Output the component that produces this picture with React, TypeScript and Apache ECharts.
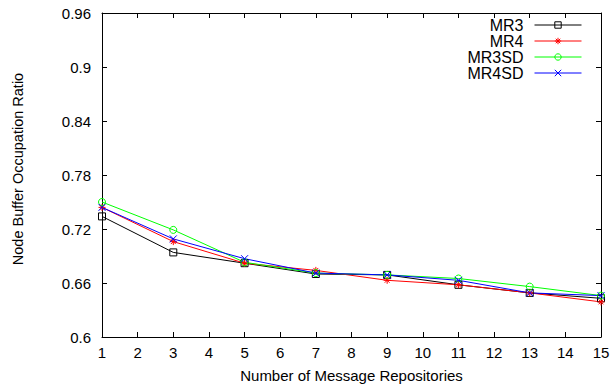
import React, { useEffect, useRef } from "react";
import * as echarts from "echarts";

const repositories = [1, 3, 5, 7, 9, 11, 13, 15];
const mr3 = [0.734, 0.694, 0.682, 0.67, 0.669, 0.658, 0.649, 0.643];
const mr4 = [0.744, 0.706, 0.682, 0.674, 0.663, 0.658, 0.649, 0.639];
const mr3sd = [0.75, 0.719, 0.683, 0.671, 0.669, 0.665, 0.656, 0.646];
const mr4sd = [0.744, 0.709, 0.687, 0.671, 0.669, 0.663, 0.649, 0.646];
const yTicks = [0.6, 0.66, 0.72, 0.78, 0.84, 0.9, 0.96];
const seriesNames = ["MR3", "MR4", "MR3SD", "MR4SD"];
const seriesColors = ["#000000", "#ff0000", "#00ff00", "#0000ff"];

const FONT = "'Liberation Sans', Arial, sans-serif";
const ASTERISK = "path://M5,0L5,10M0,5L10,5M1.5,1.5L8.5,8.5M8.5,1.5L1.5,8.5";
const CROSS = "path://M0,0L10,10M10,0L0,10";
const symbols = ["rect", ASTERISK, "circle", CROSS];

function pairs(ys: number[]) {
  return repositories.map((x, i) => [x, ys[i]]);
}

export default function App() {
  const ref = useRef<HTMLDivElement>(null);
  useEffect(() => {
    if (!ref.current) return;
    const chart = echarts.init(ref.current, null, { renderer: "svg" });
    const values = [mr3, mr4, mr3sd, mr4sd];
    const series = seriesNames.map((name, i) => ({
      name,
      type: "line",
      data: pairs(values[i]),
      symbol: symbols[i],
      symbolSize: 7,
      showAllSymbol: true,
      lineStyle: { color: seriesColors[i], width: 1 },
      itemStyle: { color: "none", borderColor: seriesColors[i], borderWidth: 1 },
      emphasis: { disabled: true },
    }));
    const tickLabel = { fontFamily: FONT, fontSize: 15, color: "#000" };
    chart.setOption({
      animation: false,
      backgroundColor: "#fff",
      grid: { left: 102, right: 14, top: 13, bottom: 53 },
      legend: {
        right: 28,
        top: 12,
        orient: "vertical",
        align: "right",
        itemWidth: 47,
        itemHeight: 8,
        itemGap: 0,
        lineStyle: { width: 1 },
        textStyle: { fontFamily: FONT, fontSize: 16, color: "#000", padding: [0, 6, 0, 0] },
        data: seriesNames.map((name, i) => ({
          name,
          itemStyle: { color: "none", borderColor: seriesColors[i], borderWidth: 1 },
        })),
      },
      xAxis: [
        {
          type: "value",
          min: 1,
          max: 15,
          interval: 1,
          name: "Number of Message Repositories",
          nameLocation: "middle",
          nameGap: 31,
          nameTextStyle: { fontFamily: FONT, fontSize: 15, color: "#000" },
          axisLine: { lineStyle: { color: "#000", width: 1 } },
          axisTick: { inside: true, length: 5, lineStyle: { color: "#000" } },
          axisLabel: { ...tickLabel, margin: 8 },
          splitLine: { show: false },
        },
        {
          type: "value",
          position: "top",
          min: 1,
          max: 15,
          interval: 1,
          axisLine: { lineStyle: { color: "#000", width: 1 } },
          axisTick: { inside: true, length: 5, lineStyle: { color: "#000" } },
          axisLabel: { show: false },
          splitLine: { show: false },
        },
      ],
      yAxis: [
        {
          type: "value",
          min: 0.6,
          max: 0.96,
          interval: 0.06,
          name: "Node Buffer Occupation Ratio",
          nameLocation: "middle",
          nameGap: 77,
          nameTextStyle: { fontFamily: FONT, fontSize: 14.5, color: "#000", padding: [0, 0, 0, 12] },
          axisLine: { show: true, lineStyle: { color: "#000", width: 1 } },
          axisTick: { show: true, inside: true, length: 5, lineStyle: { color: "#000" } },
          axisLabel: {
            ...tickLabel,
            margin: 11,
            formatter: (v: number) => {
              const t = yTicks.find((y) => Math.abs(y - v) < 1e-6);
              return t === undefined ? "" : String(t);
            },
          },
          splitLine: { show: false },
        },
        {
          type: "value",
          position: "right",
          min: 0.6,
          max: 0.96,
          interval: 0.06,
          axisLine: { show: true, lineStyle: { color: "#000", width: 1 } },
          axisTick: { show: true, inside: true, length: 5, lineStyle: { color: "#000" } },
          axisLabel: { show: false },
          splitLine: { show: false },
        },
      ],
      series,
    });
    return () => chart.dispose();
  }, []);
  return <div ref={ref} style={{ width: 615, height: 390, position: "absolute", left: 0, top: 0 }} />;
}
